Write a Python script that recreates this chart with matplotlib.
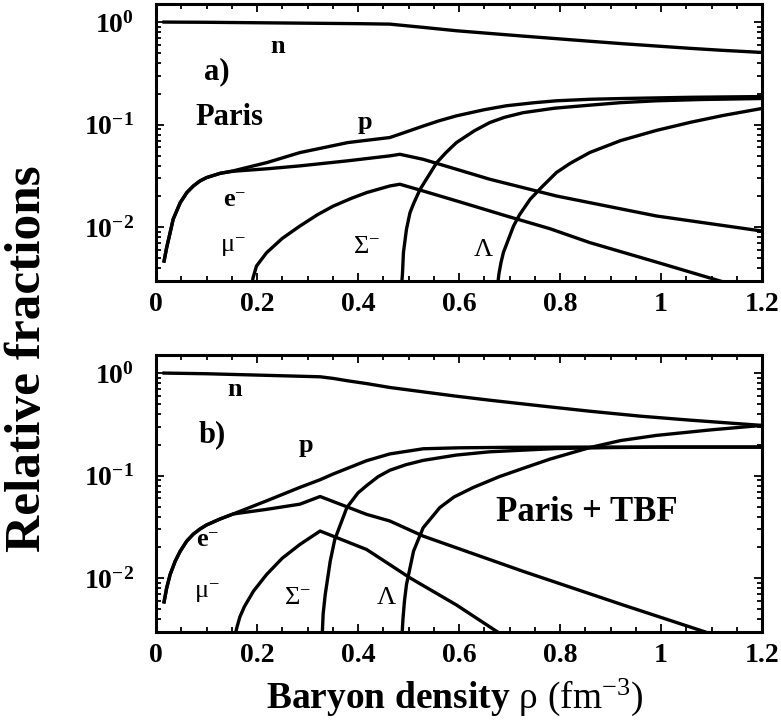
import matplotlib
matplotlib.use("Agg")
import matplotlib.pyplot as plt
from matplotlib.ticker import MultipleLocator, LogLocator, NullFormatter, FixedLocator, FixedFormatter

plt.rcParams.update({
    "font.family": "Liberation Serif",
    "mathtext.fontset": "custom",
    "mathtext.rm": "Liberation Serif:bold",
    "mathtext.bf": "Liberation Serif:bold",
    "mathtext.it": "Liberation Serif:italic:bold",
    "mathtext.sf": "Liberation Serif:weight=normal",
})

# ---------------- panel a: Paris potential ----------------
rho_n_a = [0.016, 0.1, 0.2, 0.3, 0.4, 0.463, 0.529, 0.595, 0.661, 0.727, 0.86, 0.925, 1.057, 1.123, 1.2]
frac_n_a = [1.0, 0.995, 0.985, 0.975, 0.965, 0.955, 0.888, 0.823, 0.775, 0.73, 0.65, 0.615, 0.555, 0.53, 0.506]

rho_p_a = [0.016, 0.021, 0.028, 0.034, 0.048, 0.061, 0.074, 0.087, 0.1, 0.127, 0.153, 0.22, 0.285, 0.38,
           0.463, 0.483, 0.529, 0.56, 0.595, 0.65, 0.694, 0.75, 0.793, 0.86, 0.925, 1.06, 1.2]
frac_p_a = [0.0047, 0.0063, 0.0089, 0.012, 0.0174, 0.0218, 0.0253, 0.0283, 0.0305, 0.0336, 0.0355, 0.0428,
            0.0535, 0.067, 0.075, 0.081, 0.097, 0.109, 0.122, 0.14, 0.153, 0.164, 0.171, 0.177, 0.18, 0.185, 0.188]

rho_e_a = [0.016, 0.021, 0.028, 0.034, 0.048, 0.061, 0.074, 0.087, 0.1, 0.127, 0.153, 0.22, 0.285, 0.38,
           0.463, 0.483, 0.529, 0.595, 0.661, 0.793, 0.991, 1.2]
frac_e_a = [0.0047, 0.0063, 0.0089, 0.012, 0.0174, 0.0218, 0.0253, 0.0283, 0.0305, 0.0336, 0.0352, 0.0372,
            0.0397, 0.0445, 0.0497, 0.0515, 0.046, 0.0368, 0.0294, 0.0202, 0.0129, 0.0092]

rho_mu_a = [0.189, 0.192, 0.199, 0.219, 0.25, 0.285, 0.32, 0.351, 0.385, 0.417, 0.463, 0.483, 0.529, 0.6,
            0.694, 0.78, 0.859, 0.99, 1.117, 1.2]
frac_mu_a = [0.0026, 0.0032, 0.0042, 0.00566, 0.0078, 0.0103, 0.0133, 0.0161, 0.019, 0.0218, 0.0253, 0.0263,
             0.0226, 0.0178, 0.0129, 0.0097, 0.0071, 0.0046, 0.003, 0.0023]

rho_sig_a = [0.486, 0.488, 0.49, 0.496, 0.503, 0.51, 0.523, 0.54, 0.556, 0.575, 0.595, 0.63, 0.661, 0.69,
             0.727, 0.79, 0.859, 0.92, 0.991, 1.08, 1.2]
frac_sig_a = [0.0026, 0.0035, 0.0057, 0.0096, 0.0139, 0.017, 0.0235, 0.032, 0.0428, 0.054, 0.067, 0.087,
              0.105, 0.118, 0.131, 0.145, 0.155, 0.164, 0.171, 0.176, 0.18]

rho_lam_a = [0.676, 0.679, 0.683, 0.688, 0.708, 0.72, 0.741, 0.765, 0.793, 0.82, 0.859, 0.92, 0.991, 1.06,
             1.123, 1.2]
frac_lam_a = [0.0026, 0.0035, 0.0045, 0.0057, 0.0103, 0.0133, 0.0188, 0.025, 0.0342, 0.042, 0.0536, 0.07,
              0.088, 0.106, 0.123, 0.144]

# ---------------- panel b: Paris + three-body force ----------------
rho_n_b = [0.016, 0.1, 0.2, 0.325, 0.351, 0.38, 0.417, 0.463, 0.529, 0.595, 0.661, 0.76, 0.859, 0.96,
           1.057, 1.2]
frac_n_b = [1.0, 0.985, 0.956, 0.92, 0.887, 0.84, 0.79, 0.724, 0.656, 0.595, 0.544, 0.48, 0.425, 0.38,
            0.348, 0.309]

rho_p_b = [0.016, 0.021, 0.028, 0.038, 0.048, 0.061, 0.074, 0.087, 0.1, 0.127, 0.153, 0.219, 0.285, 0.325,
           0.351, 0.417, 0.463, 0.529, 0.6, 0.7, 0.85, 1.0, 1.2]
frac_p_b = [0.0059, 0.008, 0.0109, 0.0147, 0.0184, 0.0231, 0.027, 0.0302, 0.0331, 0.0379, 0.0424, 0.0569,
            0.077, 0.0914, 0.104, 0.14, 0.163, 0.183, 0.187, 0.189, 0.19, 0.19, 0.19]

rho_e_b = [0.016, 0.021, 0.028, 0.038, 0.048, 0.061, 0.074, 0.087, 0.1, 0.127, 0.153, 0.219, 0.285, 0.325,
           0.417, 0.463, 0.529, 0.727, 0.925, 1.097, 1.2]
frac_e_b = [0.0059, 0.008, 0.0109, 0.0147, 0.0184, 0.0231, 0.027, 0.0302, 0.0331, 0.0379, 0.0424, 0.047,
            0.0528, 0.0627, 0.042, 0.0362, 0.0258, 0.0117, 0.0055, 0.0029, 0.0021]

rho_mu_b = [0.156, 0.16, 0.166, 0.175, 0.193, 0.219, 0.25, 0.285, 0.325, 0.417, 0.463, 0.503, 0.595, 0.681, 0.72]
frac_mu_b = [0.0027, 0.0033, 0.0042, 0.0053, 0.0075, 0.0109, 0.0157, 0.0214, 0.0289, 0.0191, 0.0136, 0.0101,
             0.0055, 0.0029, 0.0022]

rho_sig_b = [0.329, 0.331, 0.335, 0.345, 0.354, 0.378, 0.4, 0.417, 0.44, 0.463, 0.495, 0.529, 0.595, 0.661,
             0.793, 0.9, 1.0, 1.2]
frac_sig_b = [0.0027, 0.0045, 0.0069, 0.0147, 0.0239, 0.049, 0.068, 0.08, 0.098, 0.113, 0.128, 0.141, 0.159,
              0.171, 0.184, 0.188, 0.19, 0.19]

rho_lam_b = [0.487, 0.489, 0.492, 0.496, 0.51, 0.529, 0.562, 0.59, 0.628, 0.68, 0.727, 0.78, 0.859, 0.92,
             0.991, 1.1, 1.2]
frac_lam_b = [0.0027, 0.0040, 0.0060, 0.0087, 0.0184, 0.0311, 0.0489, 0.062, 0.0767, 0.098, 0.118, 0.145,
              0.188, 0.22, 0.247, 0.28, 0.309]

# ---------------- axis ticks ----------------
rho_ticks = [0, 0.2, 0.4, 0.6, 0.8, 1.0, 1.2]
rho_tick_labels = ["0", "0.2", "0.4", "0.6", "0.8", "1", "1.2"]
frac_ticks = [1e-2, 1e-1, 1e0]
frac_tick_labels = [r"$10^{-2}$", r"$10^{-1}$", r"$10^{0}$"]

curves_a = [(rho_n_a, frac_n_a), (rho_p_a, frac_p_a), (rho_e_a, frac_e_a),
            (rho_mu_a, frac_mu_a), (rho_sig_a, frac_sig_a), (rho_lam_a, frac_lam_a)]
curves_b = [(rho_n_b, frac_n_b), (rho_p_b, frac_p_b), (rho_e_b, frac_e_b),
            (rho_mu_b, frac_mu_b), (rho_sig_b, frac_sig_b), (rho_lam_b, frac_lam_b)]

# species labels: text, x and y in axes fraction, font size
labels_a = [
    ("n", 0.200, 0.845, 19),
    ("a)", 0.101, 0.755, 22),
    ("Paris", 0.122, 0.592, 22),
    ("p", 0.345, 0.574, 19),
    (r"$\mathbf{e}^{\mathsf{-}}$", 0.130, 0.292, 19),
    (r"$\mathsf{\mu}^{\mathsf{-}}$", 0.127, 0.123, 19),
    (r"$\mathsf{\Sigma}^{\mathsf{-}}$", 0.348, 0.123, 19),
    (r"$\mathsf{\Lambda}$", 0.540, 0.112, 19),
]
labels_b = [
    ("n", 0.130, 0.874, 19),
    ("b)", 0.092, 0.711, 22),
    ("p", 0.248, 0.675, 19),
    (r"$\mathbf{e}^{\mathsf{-}}$", 0.086, 0.330, 19),
    (r"$\mathsf{\mu}^{\mathsf{-}}$", 0.084, 0.141, 19),
    (r"$\mathsf{\Sigma}^{\mathsf{-}}$", 0.234, 0.123, 19),
    (r"$\mathsf{\Lambda}$", 0.381, 0.126, 19),
    ("Paris + TBF", 0.711, 0.433, 25),
]

W, H = 781, 721
fig = plt.figure(figsize=(W / 100, H / 100), dpi=100)
ax_a = fig.add_axes([156 / W, 1 - 281 / H, 606 / W, 277 / H])
ax_b = fig.add_axes([156 / W, 1 - 632 / H, 606 / W, 277 / H])


def style_axes(ax):
    ax.set_yscale("log")
    ax.set_xlim(0, 1.2)
    ax.set_ylim(0.003, 1.5)
    ax.xaxis.set_major_locator(FixedLocator(rho_ticks))
    ax.xaxis.set_major_formatter(FixedFormatter(rho_tick_labels))
    ax.xaxis.set_minor_locator(MultipleLocator(0.05))
    ax.yaxis.set_major_locator(FixedLocator(frac_ticks))
    ax.yaxis.set_major_formatter(FixedFormatter(frac_tick_labels))
    ax.yaxis.set_minor_locator(LogLocator(base=10, subs=[2, 3, 4, 5, 6, 7, 8, 9]))
    ax.yaxis.set_minor_formatter(NullFormatter())
    ax.tick_params(which="both", direction="in", top=True, right=True, width=1.3, color="black")
    ax.tick_params(which="major", length=6)
    ax.tick_params(which="minor", length=3.5)
    ax.tick_params(axis="x", which="major", labelsize=20, pad=8)
    ax.tick_params(axis="y", which="major", labelsize=20, pad=16)
    for s in ax.spines.values():
        s.set_linewidth(2.2)
    for lab in ax.get_xticklabels() + ax.get_yticklabels():
        lab.set_fontweight("bold")


def draw(ax, curves, labels):
    for rho, frac in curves:
        ax.plot(rho, frac, color="black", lw=2.4, solid_joinstyle="round")
    for txt, fx, fy, size in labels:
        ax.text(fx, fy, txt, transform=ax.transAxes, ha="center", va="center",
                fontsize=size, fontweight="bold")


for ax, curves, labels in ((ax_a, curves_a, labels_a), (ax_b, curves_b, labels_b)):
    style_axes(ax)
    draw(ax, curves, labels)

fig.text(28 / W, 1 - 359 / H, "Relative fractions", rotation=90, ha="center", va="center",
         fontsize=37, fontweight="bold")
fig.text(455 / W, 1 - 697 / H,
         r"$\mathbf{Baryon\ density}\ \mathsf{\rho\ (fm}^{\mathsf{-3}}\mathsf{)}$",
         ha="center", va="center", fontsize=27)

fig.savefig("out.png", dpi=100)
